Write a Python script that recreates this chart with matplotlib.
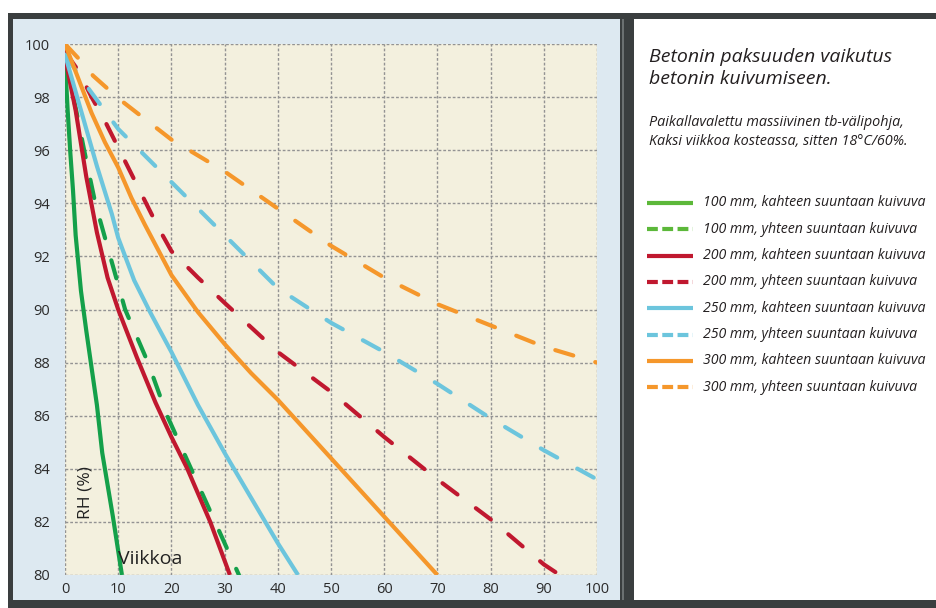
import matplotlib
matplotlib.use("Agg")
import matplotlib.pyplot as plt
from matplotlib.patches import Rectangle
from matplotlib.lines import Line2D

plt.rcParams['font.family'] = ['Open Sans', 'DejaVu Sans']
plt.rcParams['lines.scale_dashes'] = False

# ---------------- data (weeks, RH %) ----------------
w_100_two = [0, 0.5, 1, 1.5, 2, 3, 4, 5, 6, 7, 8, 9, 10.7]
rh_100_two = [99.4, 97.5, 95.9, 94.5, 92.8, 90.7, 89.2, 87.8, 86.4, 84.6, 83.4, 82.2, 80.0]

w_100_one = [0, 2, 3.6, 5.7, 8.5, 11.3, 15.6, 19.2, 23.7, 28.2, 32.7]
rh_100_one = [99.5, 97.6, 96.0, 94.0, 92.0, 90.0, 88.0, 86.0, 84.0, 82.0, 80.0]

w_200_two = [0, 2, 4, 6, 8, 10, 13.5, 17, 20, 23, 27.3, 31]
rh_200_two = [99.5, 97.5, 95.0, 92.9, 91.2, 90.0, 88.2, 86.5, 85.2, 84.0, 82.0, 80.0]

w_200_one = [0, 2.5, 5, 7.5, 10, 12.5, 15, 17.5, 20, 25, 30, 40, 50, 60, 70, 80, 90, 93]
rh_200_one = [99.7, 99.0, 98.0, 97.1, 96.1, 95.1, 94.1, 93.1, 92.2, 91.2, 90.25, 88.4, 86.9, 85.2, 83.6, 82.1, 80.4, 80.0]

w_250_two = [0, 3, 6, 8.8, 10, 13, 16, 20, 25, 30, 35, 40, 43.8]
rh_250_two = [99.6, 97.5, 95.4, 93.6, 92.7, 91.1, 89.9, 88.4, 86.4, 84.6, 82.9, 81.2, 80.0]

w_250_one = [0, 3.4, 10, 15, 20, 25, 30, 40, 50, 60, 70, 80, 90, 100]
rh_250_one = [99.6, 98.6, 96.8, 95.8, 94.8, 93.8, 92.8, 90.8, 89.5, 88.4, 87.2, 85.9, 84.7, 83.6]

w_300_two = [0, 2.5, 5, 7.5, 10, 12.5, 15, 20, 25, 30, 35, 40, 50, 60, 70]
rh_300_two = [100, 98.7, 97.4, 96.3, 95.35, 94.2, 93.2, 91.3, 89.9, 88.7, 87.6, 86.6, 84.4, 82.2, 80.0]

w_300_one = [0, 2.8, 5.3, 8.1, 11, 20, 30, 40, 50, 60, 70, 80, 90, 100]
rh_300_one = [100, 99.4, 98.8, 98.3, 97.8, 96.4, 95.2, 93.8, 92.4, 91.2, 90.2, 89.4, 88.6, 88.0]

labels = [
    "100 mm, kahteen suuntaan kuivuva",
    "100 mm, yhteen suuntaan kuivuva",
    "200 mm, kahteen suuntaan kuivuva",
    "200 mm, yhteen suuntaan kuivuva",
    "250 mm, kahteen suuntaan kuivuva",
    "250 mm, yhteen suuntaan kuivuva",
    "300 mm, kahteen suuntaan kuivuva",
    "300 mm, yhteen suuntaan kuivuva",
]
x_ticks = [0, 10, 20, 30, 40, 50, 60, 70, 80, 90, 100]
y_ticks = [80, 82, 84, 86, 88, 90, 92, 94, 96, 98, 100]

title_lines = ["Betonin paksuuden vaikutus", "betonin kuivumiseen."]
subtitle_lines = ["Paikallavalettu massiivinen tb-välipohja,",
                  "Kaksi viikkoa kosteassa, sitten 18°C/60%."]

# ---------------- styles ----------------
GREEN, RED, BLUE, ORANGE = "#14a04a", "#c0182f", "#6cc5dd", "#f5972b"
LEG_GREEN = "#5cb83a"
plot_colors = [GREEN, GREEN, RED, RED, BLUE, BLUE, ORANGE, ORANGE]
legend_colors = [LEG_GREEN, LEG_GREEN, RED, RED, BLUE, BLUE, ORANGE, ORANGE]
dashed = [False, True, False, True, False, True, False, True]
series = [(w_100_two, rh_100_two), (w_100_one, rh_100_one),
          (w_200_two, rh_200_two), (w_200_one, rh_200_one),
          (w_250_two, rh_250_two), (w_250_one, rh_250_one),
          (w_300_two, rh_300_two), (w_300_one, rh_300_one)]

W, H = 937, 608
fig = plt.figure(figsize=(W / 100, H / 100), dpi=100)
fig.patch.set_facecolor("white")

# background / frames in pixel coordinates
bg = fig.add_axes([0, 0, 1, 1], zorder=0)
bg.set_xlim(0, W)
bg.set_ylim(H, 0)
bg.axis("off")
bg.add_patch(Rectangle((8, 13), W - 8, H - 13, facecolor="#3a3e3f", edgecolor="none"))
bg.add_patch(Rectangle((13, 19), 607, 581, facecolor="#dde9f1", edgecolor="none"))
bg.add_patch(Rectangle((622, 19), 2, 581, facecolor="#6b7071", edgecolor="none"))
bg.add_patch(Rectangle((634, 19), W - 634, 581, facecolor="white", edgecolor="none"))

# main axes
ax = fig.add_axes([65 / W, 1 - 575 / H, 532 / W, 531 / H], zorder=2)
ax.set_facecolor("#f3f0de")
for s in ax.spines.values():
    s.set_visible(False)
ax.set_xlim(0, 100)
ax.set_ylim(80, 100)
ax.set_xticks(x_ticks)
ax.set_yticks(y_ticks)
ax.set_xticklabels([str(t) for t in x_ticks])
ax.set_yticklabels([str(t) for t in y_ticks])
ax.tick_params(axis="both", length=0, labelsize=10.5, colors="#2b2b2b")
ax.tick_params(axis="y", pad=11)
ax.tick_params(axis="x", pad=5)
ax.grid(True, color="#939393", linewidth=1.0, linestyle=(0, (2.0, 1.4)))
ax.set_axisbelow(True)

for (w, rh), c, d in zip(series, plot_colors, dashed):
    if d:
        ax.plot(w, rh, color=c, linewidth=3.0, dashes=(13.5, 16.5),
                dash_capstyle="round", solid_capstyle="round")
    else:
        ax.plot(w, rh, color=c, linewidth=3.0, solid_capstyle="butt",
                solid_joinstyle="round")

ax.text(3.9, 83.1, "RH (%)", rotation=90, ha="center", va="center",
        fontsize=12.5, color="#222222")
ax.text(16.0, 80.6, "Viikkoa", ha="center", va="center", fontsize=14,
        color="#222222")

# right panel texts
for i, line in enumerate(title_lines):
    bg.text(649, 62 + i * 21.5, line, ha="left", va="baseline", fontsize=14,
            style="italic", color="#231f20")
for i, line in enumerate(subtitle_lines):
    bg.text(649, 126 + i * 19, line, ha="left", va="baseline", fontsize=10.4,
            style="italic", color="#231f20")

# legend
for i, (lab, c, d) in enumerate(zip(labels, legend_colors, dashed)):
    yc = 203 + i * 26.3
    if d:
        ln = Line2D([647, 693], [yc, yc], color=c, linewidth=3.0,
                    dashes=(7.8, 3.2), dash_capstyle="butt")
    else:
        ln = Line2D([647, 693], [yc, yc], color=c, linewidth=3.0,
                    solid_capstyle="butt")
    bg.add_line(ln)
    bg.text(703, yc, lab, ha="left", va="center", fontsize=10.2, style="italic",
            color="#231f20")

fig.savefig("out.png", dpi=100, facecolor="white")
